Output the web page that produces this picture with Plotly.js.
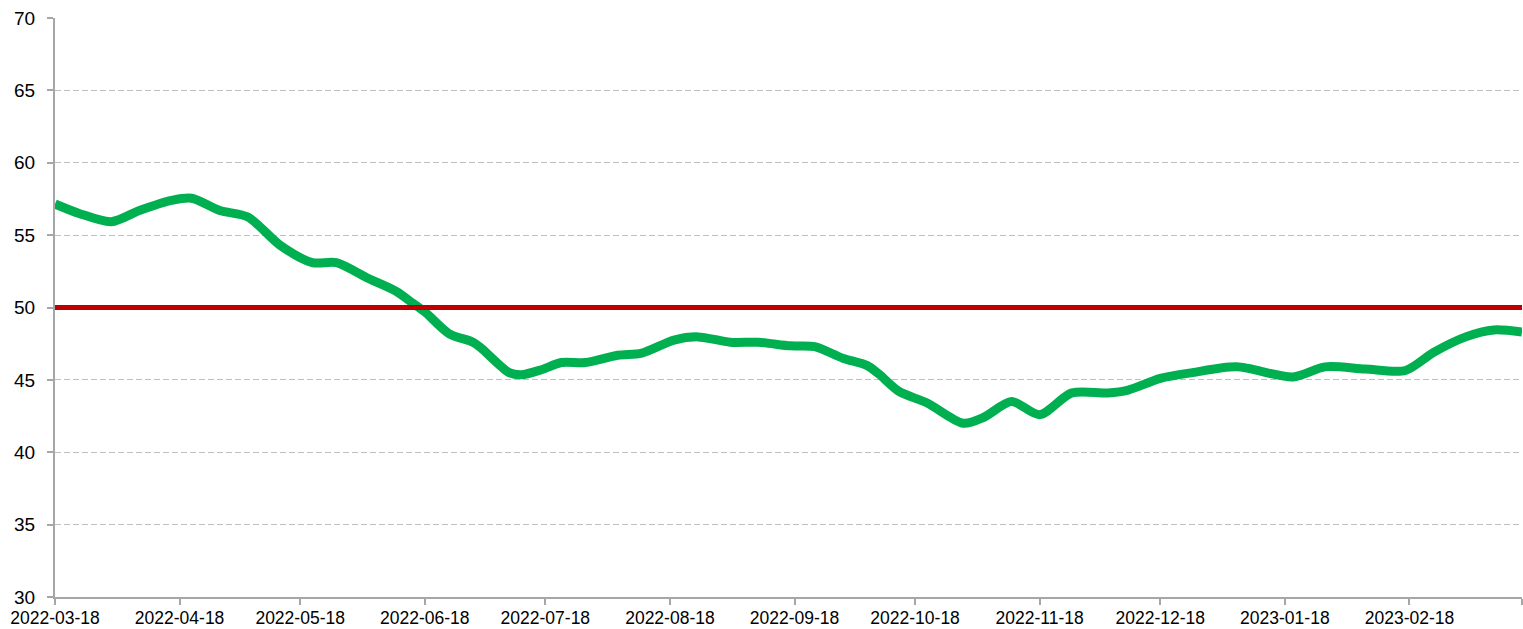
<!DOCTYPE html>
<html>
<head>
<meta charset="utf-8">
<script src="https://cdn.plot.ly/plotly-3.0.1.min.js"></script>
<style>html,body{margin:0;padding:0;background:#fff;}#chart{width:1523px;height:629px;}</style>
</head>
<body>
<div id="chart"></div>
<script>
const dates = ['2022-03-18','2022-03-24','2022-04-01','2022-04-08','2022-04-16','2022-04-21','2022-04-28','2022-05-05','2022-05-13','2022-05-21','2022-05-27','2022-06-04','2022-06-11','2022-06-15','2022-06-18','2022-06-24','2022-06-30','2022-07-02','2022-07-09','2022-07-12','2022-07-17','2022-07-22','2022-07-28','2022-08-05','2022-08-11','2022-08-19','2022-08-25','2022-09-02','2022-09-09','2022-09-17','2022-09-23','2022-09-30','2022-10-06','2022-10-09','2022-10-14','2022-10-21','2022-10-30','2022-11-04','2022-11-11','2022-11-18','2022-11-26','2022-12-05','2022-12-10','2022-12-18','2022-12-26','2023-01-06','2023-01-20','2023-01-28','2023-02-07','2023-02-17','2023-02-24','2023-03-04','2023-03-11','2023-03-18'];
const values = [57.15,56.5,55.93,56.7,57.4,57.55,56.7,56.25,54.3,53.1,53.1,52.0,51.1,50.3,49.7,48.2,47.6,47.2,45.5,45.35,45.7,46.2,46.2,46.7,46.85,47.75,47.97,47.6,47.6,47.35,47.3,46.5,46.0,45.4,44.2,43.4,42.0,42.4,43.5,42.6,44.1,44.1,44.3,45.1,45.5,45.9,45.2,45.9,45.75,45.65,46.9,47.97,48.45,48.3];
const refDates = ['2022-03-18','2023-03-18'];
const refValues = [50,50];
const tickDates = ['2022-03-18','2022-04-18','2022-05-18','2022-06-18','2022-07-18','2022-08-18','2022-09-18','2022-10-18','2022-11-18','2022-12-18','2023-01-18','2023-02-18','2023-03-18'];
const tickLabels = ['2022-03-18','2022-04-18','2022-05-18','2022-06-18','2022-07-18','2022-08-18','2022-09-18','2022-10-18','2022-11-18','2022-12-18','2023-01-18','2023-02-18',''];
const yTicks = [30,35,40,45,50,55,60,65,70];

const traces = [
  {x: dates, y: values, type: 'scatter', mode: 'lines',
   line: {color: '#00B050', width: 9, shape: 'spline', smoothing: 0.8}, hoverinfo: 'skip'},
  {x: refDates, y: refValues, type: 'scatter', mode: 'lines',
   line: {color: '#C00000', width: 5}, hoverinfo: 'skip'}
];
const layout = {
  width: 1523, height: 629,
  margin: {l: 55, r: 1, t: 18, b: 32},
  paper_bgcolor: '#fff', plot_bgcolor: '#fff',
  showlegend: false,
  font: {family: 'Liberation Sans, Arial, sans-serif', color: '#000'},
  xaxis: {
    type: 'date', range: ['2022-03-18','2023-03-18'],
    tickvals: tickDates, ticktext: tickLabels,
    showgrid: false, zeroline: false,
    showline: true, linecolor: '#A6A6A6', linewidth: 2,
    ticks: 'outside', ticklen: 6, tickcolor: '#A6A6A6', tickwidth: 2,
    tickfont: {size: 17.5, color: '#000'}, tickangle: 0, ticklabelstandoff: -2
  },
  yaxis: {
    range: [30, 70], tickvals: yTicks,
    showgrid: true, gridcolor: '#BFBFBF', griddash: '6px,3px', gridwidth: 1,
    zeroline: false, showline: true, linecolor: '#A6A6A6', linewidth: 2,
    ticks: 'outside', ticklen: 6, tickcolor: '#A6A6A6', tickwidth: 2,
    tickfont: {size: 19, color: '#000'}, ticklabelstandoff: 8
  }
};
Plotly.newPlot('chart', traces, layout, {displayModeBar: false, staticPlot: true});
</script>
</body>
</html>
